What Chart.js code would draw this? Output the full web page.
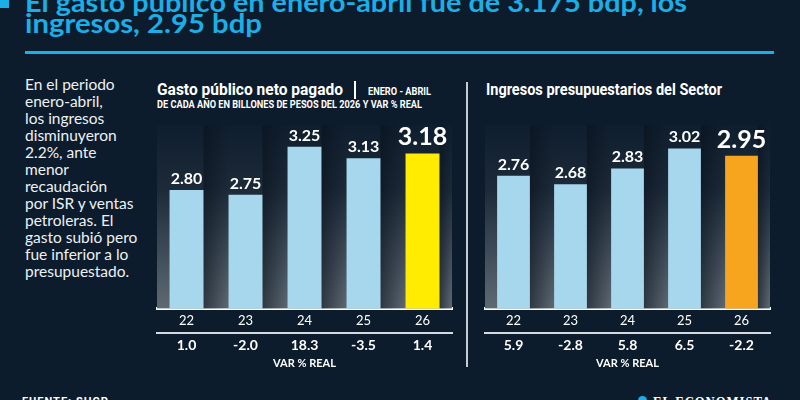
<!DOCTYPE html>
<html>
<head>
<meta charset="utf-8">
<script src="https://cdn.jsdelivr.net/npm/chart.js@4.4.1/dist/chart.umd.min.js"></script>
<style>
  html, body { margin: 0; padding: 0; }
  body { width: 800px; height: 400px; background: #0d1c2c; position: relative; overflow: hidden; font-family: Lato, sans-serif; }
  .abs { position: absolute; white-space: nowrap; transform-origin: 0 0; }
  .head { left: 25px; color: #1aafe6; font: bold 26px/1 Lato, sans-serif; }
  #h1 { top: -11px; }
  #h2 { top: 10px; }
  #rule { left: 25px; top: 51px; width: 749px; height: 3px; background: #1aafe6; }
  #mark { left: 0; top: 0; width: 9px; height: 8px; background: #1aafe6; }
  #note { left: 25px; top: 76px; color: #eef1f4; font: 15.5px/17px Lato, sans-serif; white-space: normal; }
  .cond { font-family: Roboto, sans-serif; font-weight: bold; color: #fff; line-height: 1; }
  #t1 { left: 157px; top: 81px; font-size: 17px; }
  #bar1 { left: 354px; top: 81px; width: 1.5px; height: 18px; background: #fff; }
  #t1b { left: 368px; top: 87px; font-size: 10px; }
  #t1c { left: 157px; top: 99px; font-size: 11.5px; }
  #t2 { left: 486px; top: 81px; font-size: 17px; }
  #divider { left: 466px; top: 82px; width: 2px; height: 285px; background: #c5cbd1; }
  #c1 { left: 150px; top: 110px; }
  #c2 { left: 470px; top: 110px; }
  #src { left: 22px; top: 396px; font-size: 11px; letter-spacing: 1px; }
  #logo { left: 653px; top: 396px; color: #fff; font: bold 14px/1 'Liberation Serif', serif; letter-spacing: 1px; }
  #dot { left: 638px; top: 396px; width: 9px; height: 9px; border-radius: 50%; background: #1aafe6; }
</style>
</head>
<body>
<div id="mark" class="abs"></div>
<div id="h1" class="abs head" data-w="662">El gasto público en enero-abril fue de 3.175 bdp, los</div>
<div id="h2" class="abs head" data-w="237">ingresos, 2.95 bdp</div>
<div id="rule" class="abs"></div>
<div id="note" class="abs">En el periodo<br>enero-abril,<br>los ingresos<br>disminuyeron<br>2.2%, ante<br>menor<br>recaudación<br>por ISR y ventas<br>petroleras. El<br>gasto subió pero<br>fue inferior a lo<br>presupuestado.</div>
<div id="t1" class="abs cond" data-w="186">Gasto público neto pagado</div>
<div id="bar1" class="abs"></div>
<div id="t1b" class="abs cond" data-w="63">ENERO  - ABRIL</div>
<div id="t1c" class="abs cond" data-w="265">DE CADA AÑO EN BILLONES DE PESOS DEL 2026 Y VAR % REAL</div>
<div id="t2" class="abs cond" data-w="236">Ingresos presupuestarios del Sector</div>
<div id="divider" class="abs"></div>
<canvas id="c1" class="abs" width="318" height="260"></canvas>
<canvas id="c2" class="abs" width="330" height="260"></canvas>
<div id="src" class="abs cond">FUENTE: SHCP</div>
<div id="dot" class="abs"></div>
<div id="logo" class="abs" data-w="119">EL ECONOMISTA</div>
<script>
// Data
const years = ['22', '23', '24', '25', '26'];
const gastoValues = [2.80, 2.75, 3.25, 3.13, 3.18];
const gastoVar = ['1.0', '-2.0', '18.3', '-3.5', '1.4'];
const ingresosValues = [2.76, 2.68, 2.83, 3.02, 2.95];
const ingresosVar = ['5.9', '-2.8', '5.8', '6.5', '-2.2'];

const barBlue = '#a7d7ec';

// Squeeze text blocks to the widths of the condensed lettering
function fitWidths() {
  document.querySelectorAll('[data-w]').forEach(el => {
    el.style.transform = 'none';
    const w = el.getBoundingClientRect().width;
    el.style.transform = `scaleX(${el.dataset.w / w})`;
  });
}
fitWidths();
if (document.fonts) document.fonts.ready.then(fitWidths);

// Panel background: dark-to-gray gradient with shadows between bars
const panelBackground = {
  id: 'panelBackground',
  beforeDatasetsDraw(chart) {
    const { ctx, chartArea: a } = chart;
    const g = ctx.createLinearGradient(0, a.top, 0, a.bottom);
    g.addColorStop(0, '#0f1e2e');
    g.addColorStop(0.35, '#1c2a39');
    g.addColorStop(1, '#5e6973');
    ctx.save();
    ctx.fillStyle = g;
    ctx.fillRect(a.left, a.top, a.right - a.left, a.bottom - a.top);
    const bars = chart.getDatasetMeta(0).data;
    bars.forEach((bar, i) => {
      const x0 = bar.x + bar.width / 2;
      const x1 = i < bars.length - 1 ? bars[i + 1].x - bars[i + 1].width / 2 : a.right;
      const s = ctx.createLinearGradient(x0, 0, x1, 0);
      s.addColorStop(0, 'rgba(8,16,26,0.55)');
      s.addColorStop(1, 'rgba(8,16,26,0)');
      ctx.fillStyle = s;
      ctx.fillRect(x0, a.top, x1 - x0, a.bottom - a.top);
    });
    ctx.restore();
  }
};

// Value labels above each bar, the last one larger
const valueLabels = {
  id: 'valueLabels',
  afterDatasetsDraw(chart) {
    const { ctx } = chart;
    const ds = chart.data.datasets[0];
    const bars = chart.getDatasetMeta(0).data;
    ctx.save();
    ctx.fillStyle = '#ffffff';
    ctx.textAlign = 'center';
    ctx.textBaseline = 'alphabetic';
    bars.forEach((bar, i) => {
      const last = i === bars.length - 1;
      ctx.font = last ? 'bold 25px Lato, sans-serif' : 'bold 16px Lato, sans-serif';
      ctx.fillText(ds.data[i].toFixed(2), bar.x, bar.y - (last ? 8 : 6));
    });
    ctx.restore();
  }
};

function makeConfig(values, vars, highlight, yMin, yMax, padLeft, padRight) {
  return {
    type: 'bar',
    data: {
      labels: years,
      datasets: [{
        data: values,
        backgroundColor: values.map((v, i) => i === values.length - 1 ? highlight : barBlue),
        borderWidth: 0,
        barPercentage: 0.575,
        categoryPercentage: 1
      }]
    },
    options: {
      responsive: false,
      animation: false,
      layout: { padding: { top: 15, left: padLeft, right: padRight, bottom: 0 } },
      plugins: { legend: { display: false }, tooltip: { enabled: false } },
      scales: {
        y: { display: false, min: yMin, max: yMax },
        x: {
          position: 'bottom',
          grid: { display: false, drawTicks: false },
          border: { display: true, color: '#ffffff', width: 3 },
          ticks: { color: '#ffffff', padding: 10, font: { family: 'Lato', size: 13, lineHeight: 0.385 } }
        },
        x2: {
          type: 'category',
          position: 'bottom',
          labels: vars,
          grid: { display: false, drawTicks: false },
          border: { display: true, color: '#d5dade', width: 2, dash: [8, 6] },
          ticks: { color: '#ffffff', padding: 8, font: { family: 'Lato', size: 14, weight: 'bold', lineHeight: 0.53 } },
          title: {
            display: true,
            text: 'VAR % REAL',
            color: '#ffffff',
            padding: { top: 0, bottom: 0 },
            font: { family: 'Lato', size: 11, weight: 'bold' }
          }
        }
      }
    },
    plugins: [panelBackground, valueLabels]
  };
}

new Chart(document.getElementById('c1'), makeConfig(gastoValues, gastoVar, '#ffec00', 1.57, 3.476, 7, 16));
new Chart(document.getElementById('c2'), makeConfig(ingresosValues, ingresosVar, '#f7a51e', 1.50, 3.243, 15, 30));
</script>
</body>
</html>
